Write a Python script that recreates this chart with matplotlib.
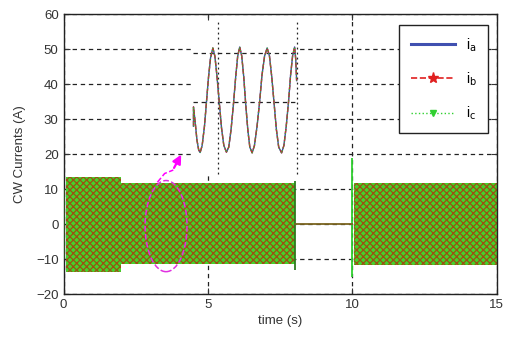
import numpy as np
import matplotlib
matplotlib.use("Agg")
from matplotlib import pyplot as plt
from matplotlib.patches import Rectangle, Ellipse
from matplotlib.lines import Line2D

plt.rcParams['font.family'] = ['Liberation Sans', 'DejaVu Sans']
plt.rcParams['hatch.linewidth'] = 0.9

# envelopes of the dense three-phase currents (s, A)
seg_start = [0.07, 2.0, 10.05]
seg_end = [2.0, 8.0, 15.0]
seg_top = [13.5, 11.7, 11.8]
seg_bot = [-13.5, -11.3, -11.5]

# switching spikes and the zero-current gap
spike_t = [8.0, 10.0]
spike_hi = [12.5, 19.0]
spike_lo = [-13.0, -15.0]
gap_t = [8.0, 10.0]
gap_i = [0.0, 0.0]

# zoomed waveform pasted in the upper part (s, A)
zoom_t = [4.50, 4.50, 4.56, 4.62, 4.68, 4.73, 4.80, 4.88, 4.95, 5.02, 5.09, 5.17,
          5.24, 5.31, 5.39, 5.47, 5.55, 5.64, 5.72, 5.80, 5.88, 5.96, 6.03, 6.10,
          6.17, 6.24, 6.31, 6.38, 6.45, 6.53, 6.61, 6.70, 6.79, 6.87, 6.96, 7.05,
          7.13, 7.21, 7.29, 7.37, 7.45, 7.55, 7.63, 7.71, 7.79, 7.86, 7.93, 8.00,
          8.04, 8.07]
zoom_i = [28.0, 33.5, 29.0, 24.0, 21.2, 20.5, 22.5, 28.0, 35.0, 42.0, 47.5, 50.3,
          48.0, 42.5, 35.0, 27.5, 22.5, 20.6, 22.0, 27.0, 34.0, 42.0, 48.0, 50.6,
          48.0, 42.0, 34.0, 27.0, 22.0, 20.4, 22.5, 28.0, 35.0, 42.5, 48.0, 50.3,
          48.0, 42.0, 34.5, 27.0, 22.0, 20.4, 22.5, 28.0, 35.0, 42.5, 48.0, 50.6,
          47.0, 41.0]

# inset frame and its own grid
inset_x = [4.45, 8.12]
inset_y = [14.5, 58.0]
inset_hgrid = [35.0, 49.0]
inset_vgrid = [5.35, 8.07]

xticks = [0, 5, 10, 15]
yticks = [-20, -10, 0, 10, 20, 30, 40, 50, 60]

fig = plt.figure(figsize=(5.08, 3.42), dpi=100)
ax = fig.add_axes([0.125, 0.139, 0.853, 0.820])

grid_ls = (0, (3.5, 3))
ax.set_axisbelow(True)
ax.grid(True, color='#222222', linestyle=grid_ls, linewidth=0.9)

# white patch of the pasted zoom covers the main grid
ax.add_patch(Rectangle((inset_x[0], inset_y[0]), inset_x[1] - inset_x[0],
                       inset_y[1] - inset_y[0], facecolor='white',
                       edgecolor='none', zorder=0.8))
ax.hlines(inset_hgrid, 4.5, inset_x[1], colors='#222222', linestyles=grid_ls,
          linewidth=0.9, zorder=0.9)
ax.vlines(inset_vgrid, inset_y[0], inset_y[1], colors='#222222',
          linestyles=(0, (1.5, 2.5)), linewidth=0.9, zorder=0.9)

# dense currents drawn as textured bands
for s, e, t, b in zip(seg_start, seg_end, seg_top, seg_bot):
    ax.fill_between([s, e], [b, b], [t, t], facecolor='#44d22c',
                    edgecolor='#9a5212', hatch='xxxxx', linewidth=0, zorder=2)

ax.vlines(spike_t, spike_lo, spike_hi, colors=['#2f7a20', '#30d030'],
          linewidth=1.3, zorder=3)
ax.vlines([0.03], [-10], [10], colors='#2f5a20', linewidth=1.2, zorder=3)
ax.plot(gap_t, gap_i, color='#7a6420', linewidth=1.3, zorder=3)

# zoomed waveform, three overlaid phases
ax.plot(zoom_t, zoom_i, color='#4040b0', linewidth=1.0, zorder=3)
ax.plot(zoom_t, zoom_i, color='#c03030', linewidth=1.0, linestyle='--', zorder=3.1)
ax.plot(zoom_t, zoom_i, color='#30c030', linewidth=0.8, linestyle=':', zorder=3.2)

# magenta marker of the zoomed region
ax.add_patch(Ellipse((3.55, -0.5), 1.45, 26, fill=False, edgecolor='#e030e0',
                     linestyle='--', linewidth=1.1, zorder=4))
ax.plot([3.25, 3.5, 3.8], [12.0, 14.5, 15.5], color='#ff00ff', linestyle='--',
        linewidth=1.1, zorder=4)
ax.annotate('', xy=(4.12, 20.6), xytext=(3.78, 15.4),
            arrowprops=dict(arrowstyle='-|>', color='#ff00ff', lw=1.6,
                            mutation_scale=13), zorder=4)

ax.set_xlim(0, 15)
ax.set_ylim(-20, 60)
ax.set_xticks(xticks)
ax.set_yticks(yticks)
ax.tick_params(direction='in', top=True, right=True, length=4, labelsize=9.5,
               colors='#333333', labelcolor='#333333')
for sp in ax.spines.values():
    sp.set_color('#222222')
    sp.set_linewidth(1.0)

ax.set_xlabel('time (s)', fontsize=9.5, color='#333333', labelpad=3)
ax.set_ylabel('CW Currents (A)', fontsize=9.5, color='#333333', labelpad=7)

handles = [
    Line2D([], [], color='#4050b0', linewidth=2.2),
    Line2D([], [], color='#e02020', linewidth=1.2, linestyle='--', marker='*',
           markersize=8),
    Line2D([], [], color='#30d030', linewidth=1.0, linestyle=':', marker='v',
           markersize=5),
]
leg = ax.legend(handles, [r'i$_\mathrm{a}$', r'i$_\mathrm{b}$', r'i$_\mathrm{c}$'],
                loc='upper right', fontsize=10, handlelength=3.2,
                labelspacing=1.2, borderpad=0.8, fancybox=False, framealpha=1,
                numpoints=1, bbox_to_anchor=(0.996, 0.985))
leg.get_frame().set_edgecolor('#222222')
leg.get_frame().set_linewidth(1.0)

fig.savefig('out.png', dpi=100)
